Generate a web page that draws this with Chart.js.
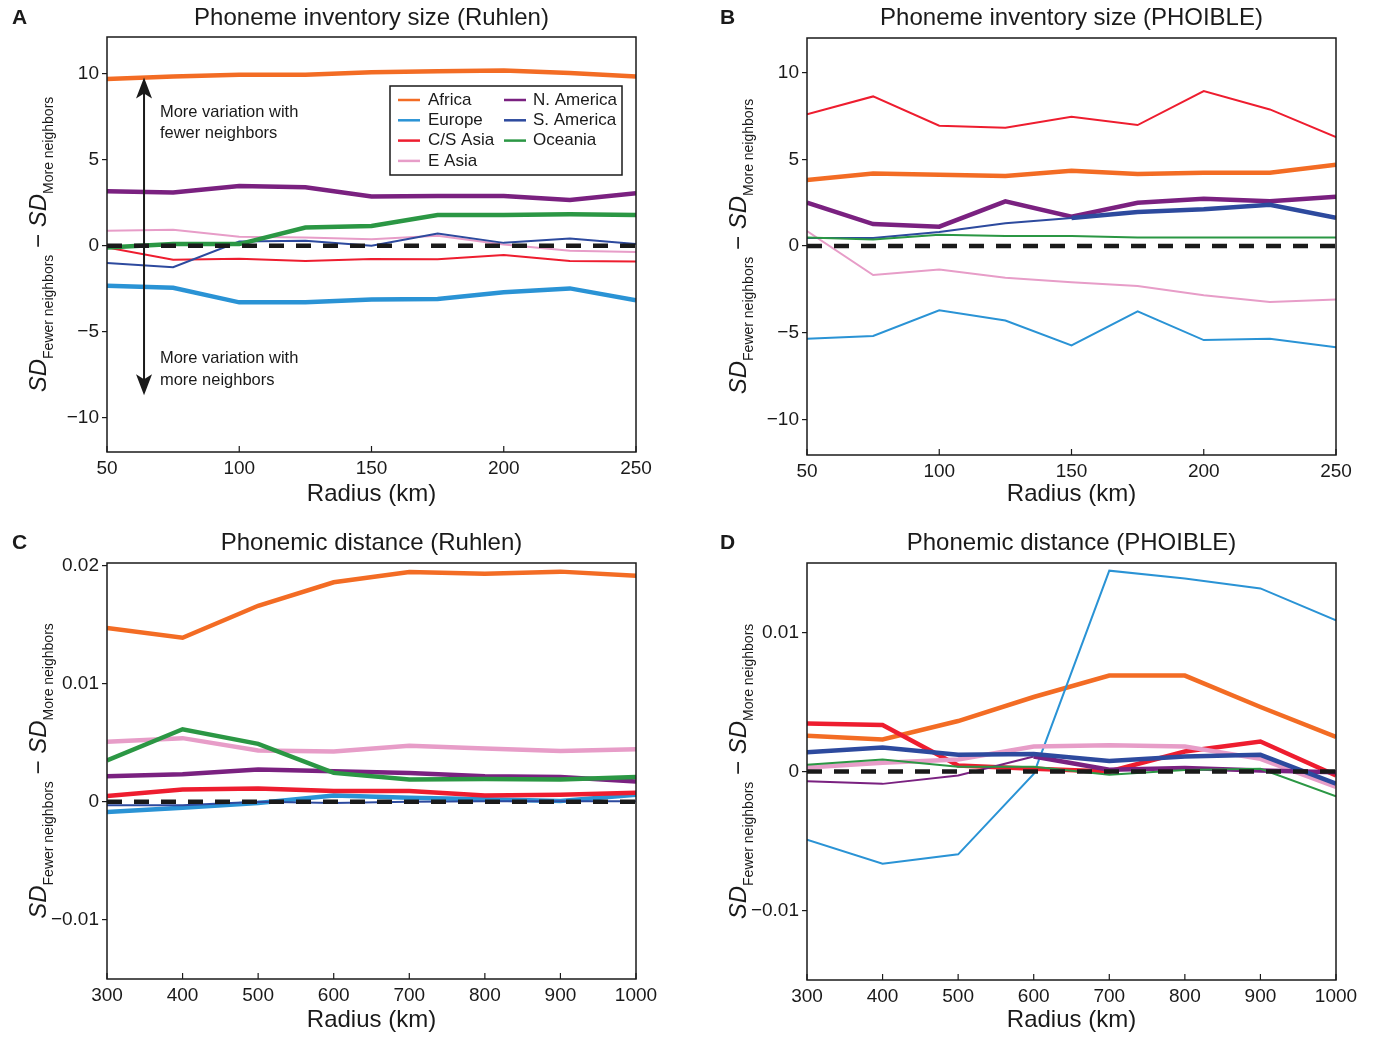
<!DOCTYPE html>
<html>
<head>
<meta charset="utf-8">
<script src="https://cdn.jsdelivr.net/npm/chart.js@4.4.1/dist/chart.umd.min.js"></script>
<style>
  html, body { margin: 0; background: #fff; }
  #wrap { position: relative; width: 1378px; height: 1039px; }
  canvas { position: absolute; }
</style>
</head>
<body>
<div id="wrap">
  <canvas id="cA" width="689" height="520" style="left:0;top:0"></canvas>
  <canvas id="cB" width="689" height="520" style="left:689px;top:0"></canvas>
  <canvas id="cC" width="689" height="519" style="left:0;top:520px"></canvas>
  <canvas id="cD" width="689" height="519" style="left:689px;top:520px"></canvas>
</div>
<script>
// ---- data ----
const regions = ["Africa", "Europe", "C/S Asia", "E Asia", "N. America", "S. America", "Oceania"];

const radiusSmall = [50, 75, 100, 125, 150, 175, 200, 225, 250];
const radiusLarge = [300, 400, 500, 600, 700, 800, 900, 1000];
const xTicksSmall = [50, 100, 150, 200, 250];
const xTicksLarge = [300, 400, 500, 600, 700, 800, 900, 1000];
const yTicksInv = [-10, -5, 0, 5, 10];
const yTicksDistC = [-0.01, 0, 0.01, 0.02];
const yTicksDistD = [-0.01, 0, 0.01];

// A: phoneme inventory size (Ruhlen)
const aAfrica = [9.7, 9.85, 9.95, 9.95, 10.1, 10.15, 10.2, 10.05, 9.85];
const aEurope = [-2.33, -2.44, -3.29, -3.29, -3.13, -3.1, -2.71, -2.48, -3.17];
const aCSAsia = [-0.1, -0.81, -0.75, -0.88, -0.77, -0.79, -0.54, -0.88, -0.92];
const aEAsia = [0.87, 0.94, 0.52, 0.48, 0.38, 0.58, 0.08, -0.29, -0.36];
const aNAmerica = [3.17, 3.1, 3.48, 3.4, 2.87, 2.9, 2.9, 2.67, 3.06];
const aSAmerica = [-1.0, -1.25, 0.25, 0.29, 0.0, 0.71, 0.17, 0.42, 0.1];
const aOceania = [-0.1, 0.1, 0.1, 1.06, 1.15, 1.79, 1.79, 1.83, 1.79];

// B: phoneme inventory size (PHOIBLE)
const bAfrica = [3.81, 4.19, 4.12, 4.04, 4.35, 4.15, 4.23, 4.23, 4.69];
const bEurope = [-5.35, -5.19, -3.7, -4.29, -5.73, -3.77, -5.42, -5.35, -5.83];
const bCSAsia = [7.6, 8.63, 6.94, 6.83, 7.46, 6.98, 8.94, 7.88, 6.29];
const bEAsia = [0.87, -1.67, -1.35, -1.83, -2.08, -2.31, -2.83, -3.23, -3.08];
const bNAmerica = [2.5, 1.27, 1.12, 2.58, 1.69, 2.5, 2.73, 2.58, 2.85];
const bSAmerica = [0.46, 0.46, 0.81, 1.31, 1.62, 1.96, 2.12, 2.38, 1.63];
const bOceania = [0.5, 0.38, 0.65, 0.58, 0.58, 0.5, 0.5, 0.5, 0.5];

// C: phonemic distance (Ruhlen)
const cAfrica = [0.0147, 0.01387, 0.01658, 0.01857, 0.01944, 0.0193, 0.01947, 0.01913];
const cEurope = [-0.00087, -0.0005, -0.0001, 0.00053, 0.00034, 0.0002, 0.00006, 0.00059];
const cCSAsia = [0.00048, 0.00104, 0.00112, 0.0009, 0.0009, 0.00053, 0.00059, 0.00076];
const cEAsia = [0.00507, 0.00538, 0.00434, 0.00426, 0.00473, 0.00451, 0.00429, 0.00445];
const cNAmerica = [0.00216, 0.00232, 0.00272, 0.00258, 0.00244, 0.00216, 0.0021, 0.00171];
const cSAmerica = [-0.0003, -0.0003, 0, -0.0001, 0, 0.00005, 0.00005, 0.00005];
const cOceania = [0.0035, 0.00613, 0.0049, 0.00244, 0.00188, 0.00193, 0.00188, 0.0021];

// D: phonemic distance (PHOIBLE)
const dAfrica = [0.00257, 0.00231, 0.00363, 0.00536, 0.0069, 0.0069, 0.00464, 0.00248];
const dEurope = [-0.0049, -0.00663, -0.00596, -0.00017, 0.01445, 0.01389, 0.01317, 0.01087];
const dCSAsia = [0.00346, 0.00334, 0.00043, 0.00019, 0, 0.00144, 0.00216, -0.00029];
const dEAsia = [0.00029, 0.00063, 0.00087, 0.0018, 0.00188, 0.0018, 0.00091, -0.00111];
const dNAmerica = [-0.0007, -0.00089, -0.00029, 0.00108, 0.00012, 0.00026, 0.00007, -0.00005];
const dSAmerica = [0.00139, 0.00173, 0.0012, 0.00125, 0.00075, 0.00108, 0.0012, -0.00087];
const dOceania = [0.00048, 0.00087, 0.00034, 0.00034, -0.00024, 0.0001, 0.00019, -0.00178];

// ---- styles ----
const FONT = "'Liberation Sans', Arial, Helvetica, sans-serif";
const regionColors = ["#f36c24", "#2a93d5", "#ee1d2f", "#e79dc8", "#7a2180", "#2d4a9e", "#2b9744"];
const THICK = 4.5, THIN = 2;
const INK = "#1a1a1a";

Chart.defaults.font.family = FONT;
Chart.defaults.color = INK;

const fmt = (v) => (v < 0 ? "\u2212" : "") + Math.abs(v);

function drawYLabel(ctx, x, yc) {
  const parts = [
    { t: "SD", f: "italic 24px " + FONT, dy: 0 },
    { t: "Fewer neighbors", f: "14px " + FONT, dy: 7 },
    { t: " \u2212 ", f: "24px " + FONT, dy: 0 },
    { t: "SD", f: "italic 24px " + FONT, dy: 0 },
    { t: "More neighbors", f: "14px " + FONT, dy: 7 },
  ];
  ctx.save();
  let total = 0;
  for (const p of parts) {
    ctx.font = p.f;
    p.w = ctx.measureText(p.t).width;
    total += p.w;
  }
  ctx.translate(x, yc);
  ctx.rotate(-Math.PI / 2);
  ctx.fillStyle = INK;
  ctx.textBaseline = "alphabetic";
  ctx.textAlign = "left";
  let cx = -total / 2;
  for (const p of parts) {
    ctx.font = p.f;
    ctx.fillText(p.t, cx, p.dy);
    cx += p.w;
  }
  ctx.restore();
}

// arrow + notes of panel A, in data units
const noteArrowX = 64;
const noteArrowTop = 9.8;
const noteArrowBottom = -8.7;
const noteTextX = 70;
const noteUpper = [["More variation with", 7.78], ["fewer neighbors", 6.51]];
const noteLower = [["More variation with", -6.57], ["more neighbors", -7.84]];

function drawNotes(chart) {
  const { ctx, scales: { x, y } } = chart;
  const ax = x.getPixelForValue(noteArrowX);
  const top = y.getPixelForValue(noteArrowTop);
  const bot = y.getPixelForValue(noteArrowBottom);
  ctx.save();
  ctx.strokeStyle = INK;
  ctx.fillStyle = INK;
  ctx.lineWidth = 2;
  ctx.beginPath();
  ctx.moveTo(ax, top + 10);
  ctx.lineTo(ax, bot - 10);
  ctx.stroke();
  // heads
  ctx.beginPath();
  ctx.moveTo(ax, top);
  ctx.lineTo(ax - 8, top + 21);
  ctx.lineTo(ax, top + 16);
  ctx.lineTo(ax + 8, top + 21);
  ctx.closePath();
  ctx.fill();
  ctx.beginPath();
  ctx.moveTo(ax, bot);
  ctx.lineTo(ax - 8, bot - 21);
  ctx.lineTo(ax, bot - 16);
  ctx.lineTo(ax + 8, bot - 21);
  ctx.closePath();
  ctx.fill();
  ctx.font = "16.5px " + FONT;
  ctx.textAlign = "left";
  ctx.textBaseline = "middle";
  const tx = x.getPixelForValue(noteTextX);
  for (const [t, v] of noteUpper.concat(noteLower)) ctx.fillText(t, tx, y.getPixelForValue(v));
  ctx.restore();
}

function drawLegend(chart) {
  const { ctx, chartArea: a } = chart;
  const bx = a.left + 283, by = a.top + 49, bw = 232, bh = 89;
  ctx.save();
  ctx.fillStyle = "#fff";
  ctx.fillRect(bx, by, bw, bh);
  ctx.strokeStyle = INK;
  ctx.lineWidth = 1.5;
  ctx.strokeRect(bx, by, bw, bh);
  ctx.font = "17px " + FONT;
  ctx.textBaseline = "middle";
  ctx.textAlign = "left";
  const sets = chart.data.datasets.filter((d) => d.label);
  sets.forEach((d, i) => {
    const col = Math.floor(i / 4), row = i % 4;
    const lx = bx + 8 + col * 106;
    const ly = by + 14 + row * 20.3;
    ctx.strokeStyle = d.borderColor;
    ctx.lineWidth = 2.5;
    ctx.beginPath();
    ctx.moveTo(lx, ly);
    ctx.lineTo(lx + 22, ly);
    ctx.stroke();
    ctx.fillStyle = INK;
    ctx.fillText(d.label, lx + 30 - col * 1, ly);
  });
  ctx.restore();
}

const decor = {
  id: "decor",
  afterDraw(chart) {
    const o = chart.options.plugins.decor;
    const { ctx, chartArea: a, scales: { x } } = chart;
    ctx.save();
    // inward bottom ticks
    ctx.strokeStyle = INK;
    ctx.lineWidth = 1.2;
    for (const v of o.xTicks) {
      const px = x.getPixelForValue(v);
      ctx.beginPath();
      ctx.moveTo(px, a.bottom);
      ctx.lineTo(px, a.bottom - 6);
      ctx.stroke();
    }
    // box
    ctx.lineWidth = 1.5;
    ctx.strokeRect(a.left, a.top, a.right - a.left, a.bottom - a.top);
    // title and letter
    ctx.fillStyle = INK;
    ctx.textBaseline = "middle";
    ctx.textAlign = "center";
    ctx.font = "24px " + FONT;
    ctx.fillText(o.title, (a.left + a.right) / 2, o.titleY);
    ctx.textAlign = "left";
    ctx.font = "bold 21px " + FONT;
    ctx.fillText(o.letter, o.letterX, o.titleY);
    ctx.restore();
    drawYLabel(ctx, a.left - 61, (a.top + a.bottom) / 2);
    if (o.notes) {
      drawNotes(chart);
      drawLegend(chart);
    }
  },
};

function makePanel(p) {
  const datasets = [
    {
      label: "",
      data: p.radius.map((r) => ({ x: r, y: 0 })),
      borderColor: INK,
      borderWidth: 4.5,
      borderDash: [15, 12],
      pointRadius: 0,
      order: 0,
    },
  ];
  p.series.forEach((vals, i) => {
    const from = p.thickFrom ? p.thickFrom[i] : undefined;
    const ds = {
      label: regions[i],
      data: vals.map((v, j) => ({ x: p.radius[j], y: v })),
      borderColor: regionColors[i],
      borderWidth: p.widths[i],
      pointRadius: 0,
      tension: 0,
      order: 10 - i,
    };
    if (from !== undefined) {
      ds.segment = { borderWidth: (c) => (c.p0DataIndex >= from ? THICK : THIN) };
    }
    datasets.push(ds);
  });

  new Chart(document.getElementById(p.canvas), {
    type: "line",
    data: { datasets },
    options: {
      responsive: false,
      animation: false,
      layout: { padding: { left: 0, right: p.padRight, top: p.padTop, bottom: 0 } },
      plugins: {
        legend: { display: false },
        tooltip: { enabled: false },
        decor: { title: p.title, letter: p.letter, letterX: p.letterX, titleY: p.titleY, xTicks: p.xTicks, notes: p.notes },
      },
      scales: {
        x: {
          type: "linear",
          min: p.xTicks[0],
          max: p.xTicks[p.xTicks.length - 1],
          afterBuildTicks: (s) => { s.ticks = p.xTicks.map((v) => ({ value: v })); },
          afterFit: (s) => { s.height = p.xHeight; },
          grid: { display: false, drawTicks: false },
          border: { display: false },
          ticks: { padding: 5, autoSkip: false, maxRotation: 0, color: INK, font: { size: 19 }, callback: fmt },
          title: { display: true, text: "Radius (km)", color: INK, font: { size: 24 }, padding: { top: 0, bottom: p.xTitlePad } },
        },
        y: {
          min: p.yMin,
          max: p.yMax,
          afterBuildTicks: (s) => { s.ticks = p.yTicks.map((v) => ({ value: v })); },
          afterFit: (s) => { s.width = p.yWidth; },
          grid: { drawOnChartArea: false, drawTicks: true, tickLength: 5, color: INK, lineWidth: 1.2 },
          border: { display: false },
          ticks: { padding: 3, color: INK, font: { size: 19 }, callback: fmt },
        },
      },
    },
    plugins: [decor],
  });
}

makePanel({
  canvas: "cA", letter: "A", title: "Phoneme inventory size (Ruhlen)",
  radius: radiusSmall, xTicks: xTicksSmall, yTicks: yTicksInv, yMin: -12, yMax: 12.15,
  series: [aAfrica, aEurope, aCSAsia, aEAsia, aNAmerica, aSAmerica, aOceania],
  widths: [THICK, THICK, THIN, THIN, THICK, THIN, THICK],
  yWidth: 107, padRight: 53, padTop: 37, xHeight: 68, xTitlePad: 11.6, titleY: 18, letterX: 12, notes: true,
});
makePanel({
  canvas: "cB", letter: "B", title: "Phoneme inventory size (PHOIBLE)",
  radius: radiusSmall, xTicks: xTicksSmall, yTicks: yTicksInv, yMin: -12.05, yMax: 12,
  series: [bAfrica, bEurope, bCSAsia, bEAsia, bNAmerica, bSAmerica, bOceania],
  widths: [THICK, THIN, THIN, THIN, THICK, THIN, THIN],
  thickFrom: { 5: 4 },
  yWidth: 118, padRight: 42, padTop: 38, xHeight: 65, xTitlePad: 11.6, titleY: 18, letterX: 31,
});
makePanel({
  canvas: "cC", letter: "C", title: "Phonemic distance (Ruhlen)",
  radius: radiusLarge, xTicks: xTicksLarge, yTicks: yTicksDistC, yMin: -0.015, yMax: 0.0202,
  series: [cAfrica, cEurope, cCSAsia, cEAsia, cNAmerica, cSAmerica, cOceania],
  widths: [THICK, THICK, THICK, THICK, THICK, THIN, THICK],
  yWidth: 107, padRight: 53, padTop: 43, xHeight: 60, xTitlePad: 4.6, titleY: 23, letterX: 12,
});
makePanel({
  canvas: "cD", letter: "D", title: "Phonemic distance (PHOIBLE)",
  radius: radiusLarge, xTicks: xTicksLarge, yTicks: yTicksDistD, yMin: -0.015, yMax: 0.015,
  series: [dAfrica, dEurope, dCSAsia, dEAsia, dNAmerica, dSAmerica, dOceania],
  widths: [THICK, THIN, THICK, THICK, THIN, THICK, THIN],
  thickFrom: { 4: 3 },
  yWidth: 118, padRight: 42, padTop: 43, xHeight: 59, xTitlePad: 4.6, titleY: 23, letterX: 31,
});
</script>
</body>
</html>
